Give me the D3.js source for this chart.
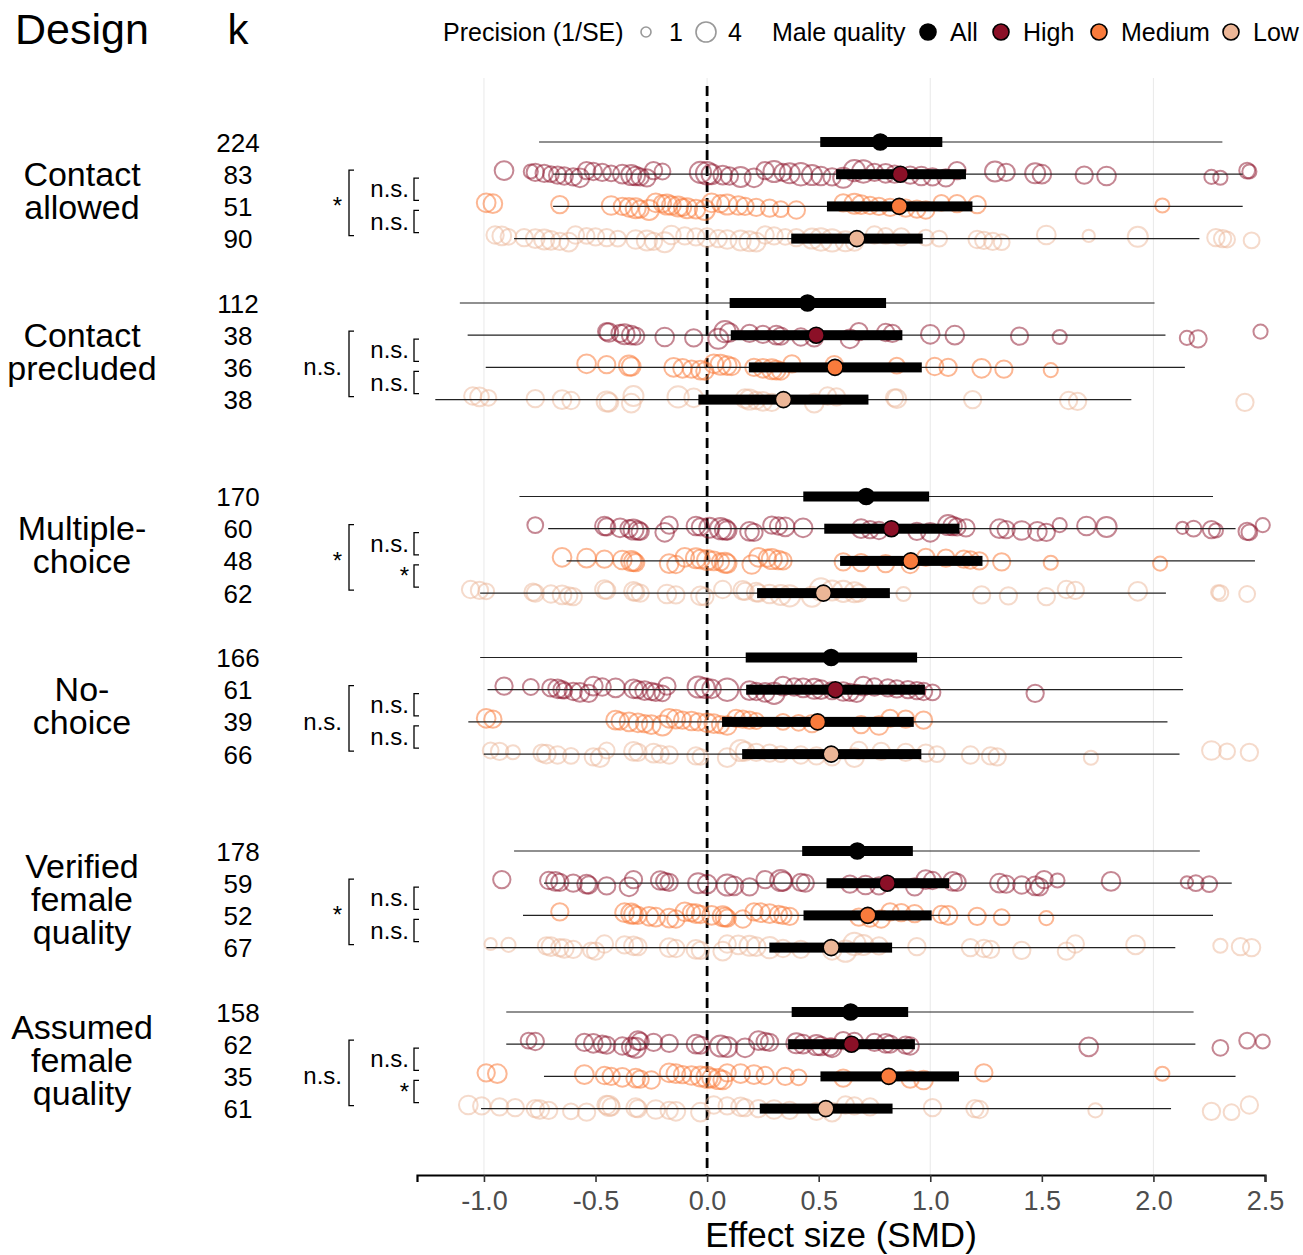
<!DOCTYPE html>
<html><head><meta charset="utf-8">
<script src="https://cdn.jsdelivr.net/npm/d3@7"></script>
<style>
body{margin:0;background:#fff}
text{font-family:"Liberation Sans",Arial,sans-serif}
</style></head>
<body><svg id="c" width="1303" height="1255"></svg>
<script>
// ---------- DATA ----------
const designLines = [["Contact","allowed"],["Contact","precluded"],["Multiple-","choice"],["No-","choice"],["Verified","female","quality"],["Assumed","female","quality"]];
const qualities = ["All","High","Medium","Low"];
const kValues = [[224,83,51,90],[112,38,36,38],[170,60,48,62],[166,61,39,66],[178,59,52,67],[158,62,35,61]];
// [mean, CI low, CI high, PI low, PI high] for All, High, Medium, Low
const estContactAllowed = [[0.776,0.507,1.054,-0.753,2.309],[0.866,0.578,1.160,-0.69,2.40],[0.861,0.537,1.189,-0.69,2.40],[0.671,0.377,0.966,-0.865,2.206]];
const estContactPrecluded = [[0.450,0.101,0.802,-1.108,2.005],[0.489,0.106,0.875,-1.073,2.054],[0.573,0.187,0.962,-0.992,2.141],[0.342,-0.039,0.723,-1.218,1.901]];
const estMultipleChoice = [[0.713,0.431,0.995,-0.841,2.267],[0.826,0.525,1.131,-0.712,2.368],[0.913,0.596,1.234,-0.63,2.455],[0.521,0.224,0.819,-1.017,2.056]];
const estNoChoice = [[0.556,0.173,0.941,-1.017,2.129],[0.575,0.175,0.976,-0.984,2.133],[0.495,0.067,0.926,-1.07,2.063],[0.556,0.157,0.96,-1.001,2.117]];
const estVerified = [[0.673,0.426,0.922,-0.865,2.208],[0.807,0.535,1.084,-0.731,2.351],[0.72,0.432,1.006,-0.825,2.267],[0.556,0.279,0.829,-0.989,2.098]];
const estAssumed = [[0.643,0.379,0.901,-0.9,2.18],[0.647,0.363,0.931,-0.9,2.188],[0.814,0.508,1.129,-0.731,2.368],[0.532,0.236,0.831,-1.013,2.079]];
const outerLabels = ["*","n.s.","*","n.s.","*","n.s."];
const innerLabels = [["n.s.","n.s."],["n.s.","n.s."],["n.s.","*"],["n.s.","n.s."],["n.s.","n.s."],["n.s.","*"]];
const xTicks = [-1,-0.5,0,0.5,1,1.5,2,2.5];
const gridTicks = [-1,0,1,2];

// individual effect sizes: [SMD, precision]
const ptsCAh = [[-0.91,3.5],[-0.79,2],[-0.77,3],[-0.73,3],[-0.70,2.5],[-0.67,3],[-0.64,3],[-0.60,3],[-0.57,3.5],[-0.54,3],[-0.51,3],[-0.47,3],[-0.43,2.5],[-0.38,3.5],[-0.34,4],[-0.32,3.5],[-0.30,3],[-0.27,3],[-0.24,3],[-0.20,2.5],[-0.03,4.5],[0.00,5],[0.02,4],[0.07,3.5],[0.10,3],[0.15,4],[0.21,3.5],[0.26,3],[0.30,4.5],[0.34,3],[0.37,4],[0.42,5],[0.47,4],[0.51,3.5],[0.56,3],[0.61,4],[0.66,4.5],[0.70,5],[0.75,3],[0.80,3.5],[0.84,3],[0.91,3],[0.96,3.5],[1.01,3],[1.07,3],[1.12,3],[1.29,4],[1.34,3],[1.47,4],[1.50,3.5],[1.69,3],[1.79,3.5],[2.26,2],[2.30,2],[2.42,2.5],[2.43,2]];
const ptsCAm = [[-0.99,3.5],[-0.96,3.5],[-0.66,3],[-0.43,3.5],[-0.38,3],[-0.35,3.5],[-0.32,4],[-0.30,3],[-0.26,4],[-0.23,3.5],[-0.20,3],[-0.18,4],[-0.16,3.5],[-0.13,4],[-0.11,3],[-0.09,4],[-0.05,3.5],[-0.01,4],[0.02,3.5],[0.06,3],[0.09,4],[0.14,3.5],[0.17,3],[0.22,3],[0.28,3],[0.33,2.5],[0.40,3],[0.61,3],[0.66,4],[0.69,3.5],[0.73,3],[0.77,3],[0.82,3],[0.89,3],[0.94,3],[0.98,3],[1.05,2.5],[1.12,3],[1.21,3],[2.04,2]];
const ptsCAl = [[-0.95,3],[-0.92,3.5],[-0.89,2.5],[-0.82,3],[-0.77,3.5],[-0.73,4],[-0.70,3.5],[-0.66,3],[-0.62,3.5],[-0.59,3],[-0.54,2.5],[-0.50,3],[-0.45,3],[-0.40,2.5],[-0.32,3.5],[-0.27,4],[-0.24,3],[-0.19,4],[-0.16,3.5],[-0.10,3],[-0.05,3],[0.00,3.5],[0.05,3],[0.09,3.5],[0.15,4],[0.19,4],[0.22,3.5],[0.26,3],[0.30,3],[0.35,2.5],[0.40,3],[0.47,4],[0.51,5],[0.56,5],[0.62,4],[0.66,3],[0.75,3],[0.80,2.5],[0.87,3],[0.98,2.5],[1.04,2.5],[1.21,3],[1.24,3],[1.28,3],[1.32,2.5],[1.52,3.5],[1.71,1.5],[1.93,4],[2.28,3],[2.31,3],[2.33,2.5],[2.44,2.5]];
const ptsCPh = [[-0.45,3],[-0.44,3.5],[-0.39,3],[-0.37,4],[-0.34,3.5],[-0.32,3],[-0.19,3.5],[-0.06,3],[0.05,4],[0.08,4.5],[0.10,3.5],[0.19,3],[0.25,3],[0.31,3.5],[0.33,3],[0.42,3],[0.48,3],[0.64,3.5],[0.68,3],[0.80,3],[0.83,3],[1.00,3.5],[1.11,3.5],[1.40,3],[1.58,2],[2.15,2],[2.20,3],[2.48,2]];
const ptsCPm = [[-0.54,3.5],[-0.45,3],[-0.35,4],[-0.34,3.5],[-0.15,3.5],[-0.11,3.5],[-0.07,3],[-0.03,3.5],[-0.01,3],[0.03,3.5],[0.06,4],[0.09,3.5],[0.11,3],[0.21,3],[0.25,3.5],[0.29,4],[0.31,3.5],[0.33,3],[0.38,3],[0.57,3],[0.85,2.5],[1.02,3],[1.08,3],[1.23,3.5],[1.33,3],[1.54,2]];
const ptsCPl = [[-1.05,3],[-1.02,3.5],[-0.98,2.5],[-0.77,3],[-0.65,3.5],[-0.61,3],[-0.45,4],[-0.44,3.5],[-0.34,3.5],[-0.33,4],[-0.13,4.5],[-0.06,3.5],[0.17,3.5],[0.19,4],[0.22,3],[0.25,3.5],[0.29,3],[0.48,3.5],[0.54,3],[0.58,3],[0.84,3],[0.85,3.5],[1.19,3],[1.62,3],[1.66,3],[2.41,3]];
const ptsMCh = [[-0.77,2.5],[-0.46,3.5],[-0.45,3],[-0.39,3.5],[-0.35,3],[-0.33,4],[-0.31,3.5],[-0.30,3],[-0.19,3.5],[-0.17,3],[-0.05,3.5],[-0.03,3],[0.01,4],[0.06,4.5],[0.08,4],[0.09,3.5],[0.19,3.5],[0.21,3],[0.29,3],[0.32,3],[0.35,3.5],[0.43,3.5],[0.69,3.5],[0.73,3],[0.77,3],[0.94,3],[1.00,3.5],[1.08,4],[1.10,3.5],[1.12,3],[1.16,3],[1.31,3.5],[1.34,3],[1.41,3.5],[1.48,3.5],[1.52,3],[1.58,2],[1.70,3.5],[1.79,4],[2.13,1.5],[2.18,2.5],[2.26,3],[2.28,2],[2.42,3],[2.43,2.5],[2.49,2]];
const ptsMCm = [[-0.65,3.5],[-0.54,3.5],[-0.46,3],[-0.38,3.5],[-0.34,4],[-0.33,3.5],[-0.32,3],[-0.17,3.5],[-0.14,3],[-0.10,3.5],[-0.05,4],[-0.03,3.5],[0.00,4],[0.03,3.5],[0.06,3],[0.08,4],[0.09,3.5],[0.20,3.5],[0.23,3.5],[0.27,3],[0.29,4],[0.32,3.5],[0.34,3],[0.61,3],[0.69,3],[0.80,3],[0.91,3],[0.98,3],[1.07,3],[1.15,3],[1.18,3],[1.22,3],[1.32,3],[1.54,2],[2.03,2]];
const ptsMCl = [[-1.06,3],[-1.02,3],[-0.99,2.5],[-0.78,3],[-0.77,3],[-0.70,3],[-0.65,3.5],[-0.62,3],[-0.60,3],[-0.46,3.5],[-0.45,3],[-0.33,3.5],[-0.32,3],[-0.30,3],[-0.18,3.5],[-0.14,3],[-0.03,3.5],[-0.01,3],[0.07,3],[0.16,3.5],[0.17,3],[0.22,3.5],[0.23,3],[0.28,3.5],[0.33,4],[0.37,4.5],[0.47,4],[0.51,5],[0.56,4],[0.61,4.5],[0.66,4],[0.68,3],[0.88,2],[1.23,3],[1.35,3],[1.52,3],[1.61,3],[1.65,3],[1.93,3.5],[2.29,2],[2.30,2.5],[2.42,2.5]];
const ptsNCh = [[-0.91,3],[-0.79,2.5],[-0.70,3],[-0.67,3.5],[-0.65,3],[-0.64,2.5],[-0.60,3],[-0.57,3.5],[-0.53,3],[-0.51,3.5],[-0.47,3],[-0.41,3.5],[-0.33,3.5],[-0.31,3],[-0.28,3.5],[-0.25,3],[-0.23,3],[-0.20,2.5],[-0.18,3],[-0.04,4.5],[-0.01,4],[0.02,3.5],[0.09,5],[0.19,3.5],[0.22,3],[0.26,3.5],[0.30,4.5],[0.34,3.5],[0.39,3],[0.43,3.5],[0.48,4],[0.51,3.5],[0.56,3],[0.61,3.5],[0.64,3],[0.67,3],[0.70,3.5],[0.75,3],[0.81,3],[0.85,3],[0.90,3],[0.94,3],[0.97,3],[1.01,2.5],[1.47,3]];
const ptsNCm = [[-0.99,3.5],[-0.96,3],[-0.41,3.5],[-0.39,3],[-0.35,3.5],[-0.31,3.5],[-0.28,3],[-0.25,3.5],[-0.20,4],[-0.17,3.5],[-0.14,3.5],[-0.11,3],[-0.07,3.5],[-0.04,3],[0.00,3.5],[0.03,3.5],[0.06,3],[0.09,3.5],[0.13,3],[0.16,3],[0.19,3],[0.22,2.5],[0.34,2.5],[0.41,2.5],[0.47,3],[0.69,3],[0.77,3.5],[0.82,3],[0.89,3],[0.97,3]];
const ptsNCl = [[-0.97,2.5],[-0.93,3],[-0.87,2],[-0.74,3],[-0.72,3.5],[-0.67,3],[-0.61,2.5],[-0.51,3],[-0.48,3.5],[-0.45,2.5],[-0.33,3.5],[-0.31,3],[-0.24,3.5],[-0.21,3],[-0.17,3],[-0.05,3],[-0.03,2.5],[0.09,3.5],[0.15,4.5],[0.17,3.5],[0.22,3],[0.28,3],[0.33,2.5],[0.42,3],[0.49,3],[0.56,3],[0.66,3.5],[0.68,3],[0.78,3],[0.89,3],[0.98,3],[1.03,2.5],[1.18,3],[1.27,3],[1.30,3],[1.72,2],[2.26,3.5],[2.33,2.5],[2.43,3]];
const ptsVFh = [[-0.92,3],[-0.71,3],[-0.68,3.5],[-0.66,3],[-0.60,3],[-0.54,3.5],[-0.53,3],[-0.45,3],[-0.35,3.5],[-0.33,3],[-0.21,3.5],[-0.19,3],[-0.17,3],[-0.04,4],[0.00,3.5],[0.09,4.5],[0.12,3.5],[0.19,3],[0.26,3],[0.33,4.5],[0.34,3.5],[0.42,3],[0.44,3],[0.64,3],[0.71,3.5],[0.77,3],[0.93,3],[0.98,3.5],[1.01,3],[1.10,3.5],[1.12,3],[1.31,3.5],[1.34,3],[1.41,3],[1.47,3.5],[1.49,3],[1.51,3],[1.57,2],[1.81,3.5],[2.15,1.5],[2.19,2.5],[2.25,2.5]];
const ptsVFm = [[-0.66,3],[-0.37,3.5],[-0.34,4],[-0.33,3.5],[-0.31,3],[-0.26,3.5],[-0.23,3.5],[-0.17,3.5],[-0.14,3],[-0.10,3.5],[-0.07,3],[-0.05,3.5],[-0.03,3],[0.02,3.5],[0.07,4],[0.08,3.5],[0.09,3],[0.16,3],[0.21,3],[0.24,3.5],[0.28,3.5],[0.32,3],[0.34,3],[0.37,3],[0.68,3],[0.73,3],[0.78,3],[0.82,3],[0.87,3],[0.93,3],[1.05,3],[1.08,3.5],[1.21,3],[1.32,2.5],[1.52,2]];
const ptsVFl = [[-0.97,1.5],[-0.89,2],[-0.72,3],[-0.70,3.5],[-0.66,3],[-0.64,3.5],[-0.60,3],[-0.52,2.5],[-0.50,3],[-0.46,3],[-0.37,3],[-0.33,3.5],[-0.31,3],[-0.17,3.5],[-0.14,3],[-0.05,3.5],[-0.03,3],[0.07,3.5],[0.09,3],[0.14,3.5],[0.19,4],[0.22,3.5],[0.28,4.5],[0.34,3],[0.42,3],[0.56,3.5],[0.62,4.5],[0.66,5],[0.70,4],[0.77,3],[0.94,3],[1.18,3],[1.24,3],[1.27,3],[1.41,3],[1.61,3],[1.65,3],[1.92,3.5],[2.30,2],[2.39,3],[2.44,3]];
const ptsAFh = [[-0.80,2.5],[-0.77,3],[-0.55,3],[-0.51,3.5],[-0.47,3],[-0.45,3],[-0.38,3],[-0.34,3.5],[-0.32,4],[-0.31,3.5],[-0.30,3],[-0.24,3],[-0.17,3],[-0.05,3.5],[-0.03,3],[0.06,4.5],[0.09,4],[0.17,3.5],[0.23,3.5],[0.26,3],[0.28,3],[0.40,4],[0.43,3.5],[0.49,4],[0.51,3.5],[0.55,3],[0.56,3.5],[0.61,3],[0.66,3],[0.75,3],[0.80,3.5],[0.82,3],[0.89,3],[0.91,3],[1.71,3.5],[2.30,2.5],[2.42,2.5],[2.49,2]];
const ptsAFm = [[-0.99,3],[-0.94,3.5],[-0.55,3.5],[-0.46,3],[-0.43,3],[-0.38,3.5],[-0.32,3.5],[-0.30,3],[-0.25,3],[-0.17,3.5],[-0.14,3.5],[-0.11,3],[-0.07,3.5],[-0.03,4],[0.00,4.5],[0.02,3.5],[0.05,4],[0.07,3.5],[0.09,3],[0.15,3.5],[0.21,3.5],[0.26,3],[0.35,3],[0.41,2.5],[0.61,3],[0.91,3],[0.97,3.5],[1.24,3],[2.04,2]];
const ptsAFl = [[-1.07,3.5],[-1.01,3],[-0.93,3],[-0.86,3],[-0.77,3],[-0.75,3.5],[-0.71,3],[-0.61,2.5],[-0.54,3],[-0.45,3.5],[-0.44,4],[-0.43,3],[-0.32,3.5],[-0.31,3],[-0.23,3.5],[-0.17,3],[-0.14,3.5],[-0.03,3.5],[0.03,3],[0.09,3],[0.15,3.5],[0.17,3],[0.23,3],[0.30,3.5],[0.37,3],[0.49,3],[0.56,3.5],[0.62,3],[0.66,3],[0.73,3],[1.01,3],[1.20,3],[1.22,3],[1.74,2],[2.26,3],[2.35,2.5],[2.43,3]];

const estimates = [estContactAllowed, estContactPrecluded, estMultipleChoice, estNoChoice, estVerified, estAssumed];
const points = [[ptsCAh,ptsCAm,ptsCAl],[ptsCPh,ptsCPm,ptsCPl],[ptsMCh,ptsMCm,ptsMCl],[ptsNCh,ptsNCm,ptsNCl],[ptsVFh,ptsVFm,ptsVFl],[ptsAFh,ptsAFm,ptsAFl]];

// ---------- STYLE / LAYOUT ----------
const colors = {All:"#000000", High:"#8B1027", Medium:"#F97B3C", Low:"#ECB697"};
const ptOpacity = {High:0.5, Medium:0.55, Low:0.5};
const svg = d3.select("#c");
const x = d3.scaleLinear().domain([-1.3, 2.5]).range([417, 1265]);
const r = d3.scaleSqrt().domain([0, 4]).range([0, 10]);
const rowStep = 32.2;
const groupY = d3.scaleOrdinal().domain(d3.range(6)).range([142, 303, 496.5, 657.5, 851, 1012]);
const rowY = (g, i) => groupY(g) + i * rowStep;
const axisY = 1175;

// gridlines
svg.append("g").selectAll("line").data(gridTicks).join("line")
  .attr("x1", d => x(d)).attr("x2", d => x(d)).attr("y1", 78).attr("y2", axisY)
  .attr("stroke", "#ebebeb").attr("stroke-width", 1.1);

// zero line
svg.append("line").attr("x1", x(0)).attr("x2", x(0)).attr("y1", 86).attr("y2", axisY)
  .attr("stroke", "#000").attr("stroke-width", 2.8).attr("stroke-dasharray", "10,6");

// scatter
const jit = i => (((i * 37) % 9) - 4) * 0.9;
points.forEach((grp, g) => {
  grp.forEach((arr, qi) => {
    const q = qualities[qi + 1];
    const y0 = rowY(g, qi + 1);
    svg.append("g").selectAll("circle").data(arr).join("circle")
      .attr("cx", d => x(d[0])).attr("cy", (d, i) => y0 + jit(i))
      .attr("r", d => r(d[1]))
      .attr("fill", "none").attr("stroke", colors[q]).attr("stroke-width", 2)
      .attr("stroke-opacity", ptOpacity[q]);
  });
});

// estimates
estimates.forEach((grp, g) => {
  grp.forEach((e, i) => {
    const y0 = rowY(g, i);
    const q = qualities[i];
    svg.append("line").attr("x1", x(e[3])).attr("x2", x(e[4])).attr("y1", y0).attr("y2", y0)
      .attr("stroke", "#222").attr("stroke-width", 1.2);
    svg.append("rect").attr("x", x(e[1])).attr("width", x(e[2]) - x(e[1]))
      .attr("y", y0 - 5).attr("height", 10).attr("fill", "#000");
    svg.append("circle").attr("cx", x(e[0])).attr("cy", y0).attr("r", 8)
      .attr("fill", colors[q]).attr("stroke", "#000").attr("stroke-width", 1.6);
  });
});

// axis
const ax = svg.append("g").attr("transform", `translate(0,${axisY})`)
  .call(d3.axisBottom(x).tickValues(xTicks).tickSizeOuter(0).tickSize(7).tickFormat(d => d.toFixed(1)));
ax.select(".domain").attr("stroke", "#000").attr("stroke-width", 2.2);
ax.selectAll(".tick line").attr("stroke", "#333").attr("stroke-width", 1.6);
ax.selectAll(".tick text").attr("font-size", 27).attr("fill", "#4d4d4d").attr("dy", 0).attr("y", 35)
  .attr("font-family", '"Liberation Sans",Arial,sans-serif');
svg.append("text").attr("x", 841).attr("y", 1247).attr("text-anchor", "middle")
  .attr("font-size", 35).text("Effect size (SMD)");

// headers
svg.append("text").attr("x", 82).attr("y", 44).attr("text-anchor", "middle").attr("font-size", 43).text("Design");
svg.append("text").attr("x", 238).attr("y", 44).attr("text-anchor", "middle").attr("font-size", 42).text("k");

// design labels & k
designLines.forEach((lines, g) => {
  const c = (rowY(g, 0) + rowY(g, 3)) / 2;
  const lh = 33;
  const t = svg.append("text").attr("text-anchor", "middle").attr("font-size", 34);
  lines.forEach((ln, j) => {
    const cy = c + (j - (lines.length - 1) / 2) * lh;
    t.append("tspan").attr("x", 82).attr("y", cy + 12).text(ln);
  });
  kValues[g].forEach((k, i) => {
    svg.append("text").attr("x", 238).attr("y", rowY(g, i) + 9.5).attr("text-anchor", "middle")
      .attr("font-size", 26).text(k);
  });
  // outer bracket (High vs Low)
  const yH = rowY(g, 1), yM = rowY(g, 2), yL = rowY(g, 3);
  const bp = (x0, y1, y2) => `M${x0 + 5},${y1}H${x0}V${y2}H${x0 + 5}`;
  svg.append("path").attr("d", bp(349, yH - 4, yL - 3)).attr("fill", "none").attr("stroke", "#000").attr("stroke-width", 1.3);
  svg.append("text").attr("x", 342).attr("y", yM + 8).attr("text-anchor", "end").attr("font-size", 24).text(outerLabels[g]);
  // inner brackets
  [[yH, yM], [yM, yL]].forEach(([a, b], j) => {
    svg.append("path").attr("d", bp(414, a + 4, b - 6)).attr("fill", "none").attr("stroke", "#000").attr("stroke-width", 1.3);
    svg.append("text").attr("x", 409).attr("y", (a + b) / 2 + 7).attr("text-anchor", "end").attr("font-size", 24).text(innerLabels[g][j]);
  });
});

// legend
const lg = svg.append("g");
const ly = 32;
lg.append("text").attr("x", 443).attr("y", ly + 9).attr("font-size", 25).text("Precision (1/SE)");
lg.append("circle").attr("cx", 646).attr("cy", ly).attr("r", r(1)).attr("fill", "none").attr("stroke", "#999").attr("stroke-width", 1.6);
lg.append("text").attr("x", 669).attr("y", ly + 9).attr("font-size", 25).text("1");
lg.append("circle").attr("cx", 706).attr("cy", ly).attr("r", r(4)).attr("fill", "none").attr("stroke", "#999").attr("stroke-width", 1.6);
lg.append("text").attr("x", 728).attr("y", ly + 9).attr("font-size", 25).text("4");
lg.append("text").attr("x", 772).attr("y", ly + 9).attr("font-size", 25).text("Male quality");
const legX = [928, 1001, 1099, 1231];
qualities.forEach((q, i) => {
  lg.append("circle").attr("cx", legX[i]).attr("cy", ly).attr("r", 8).attr("fill", colors[q]).attr("stroke", "#000").attr("stroke-width", 1.6);
  lg.append("text").attr("x", legX[i] + 22).attr("y", ly + 9).attr("font-size", 25).text(q);
});
</script></body></html>
